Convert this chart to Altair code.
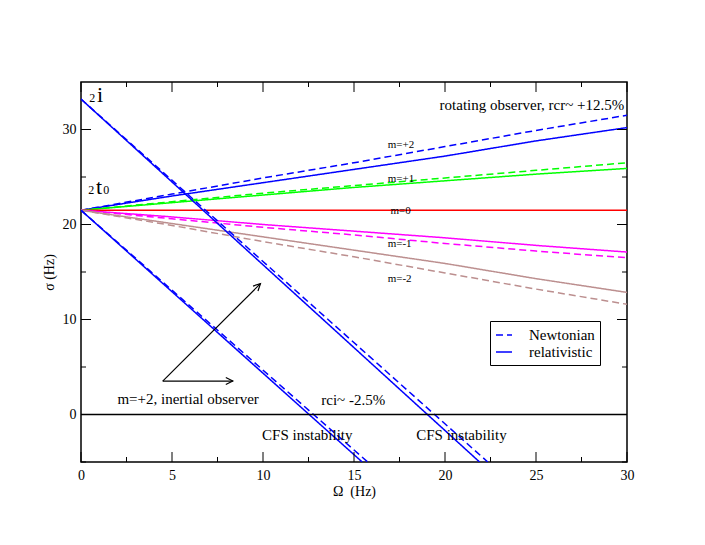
import altair as alt
import pandas as pd

FONT = "Liberation Serif"

# ---------------- data ----------------
omega_grid = [0, 5, 10, 15, 20, 25, 30]
mode_names = ["m=+2", "m=+1", "m=0", "m=-1", "m=-2"]
mode_colors = ["#0000ff", "#00ff00", "#ff0000", "#ff00ff", "#bc8f8f"]

sigma_newtonian = {
    "m=+2": [21.5, 23.2, 24.9, 26.5, 28.2, 29.9, 31.5],
    "m=+1": [21.5, 22.4, 23.3, 24.1, 24.9, 25.7, 26.5],
    "m=-1": [21.5, 20.6, 19.7, 18.9, 18.0, 17.2, 16.5],
    "m=-2": [21.5, 19.9, 18.2, 16.6, 14.9, 13.2, 11.6],
}
sigma_relativistic = {
    "m=+2": [21.5, 23.0, 24.4, 25.8, 27.2, 28.8, 30.2],
    "m=+1": [21.5, 22.3, 23.1, 23.9, 24.6, 25.3, 25.9],
    "m=0": [21.5, 21.5, 21.5, 21.5, 21.5, 21.5, 21.5],
    "m=-1": [21.5, 20.8, 20.0, 19.3, 18.6, 17.8, 17.1],
    "m=-2": [21.5, 20.1, 18.7, 17.3, 15.9, 14.3, 12.85],
}

# inertial-observer m=+2 branches (i and t0)
inertial_i_omega_newt = [0, 22.35]
inertial_i_sigma_newt = [33.2, -5.0]
inertial_i_omega_rel = [0, 21.9]
inertial_i_sigma_rel = [33.2, -5.0]
inertial_t_omega_newt = [0, 15.75]
inertial_t_sigma_newt = [21.5, -5.0]
inertial_t_omega_rel = [0, 15.45]
inertial_t_sigma_rel = [21.5, -5.0]

x_major = [0, 5, 10, 15, 20, 25, 30]
x_minor = [2.5, 7.5, 12.5, 17.5, 22.5, 27.5]
y_major = [0, 10, 20, 30]
y_minor = [-5, 5, 15, 25]

# annotations
mode_label_omega = [16.85, 16.85, 17.0, 16.85, 16.85]
mode_label_sigma = [28.4, 24.8, 21.4, 17.9, 14.3]

text15_labels = ["m=+2, inertial observer", "rci~ -2.5%", "CFS instability", "CFS instability"]
text15_omega = [2.0, 13.2, 9.95, 18.42]
text15_sigma = [1.6, 1.5, -2.15, -2.15]

title_label = ["rotating observer, rcr~ +12.5%"]
title_omega = [29.85]
title_sigma = [32.6]

big_glyphs = ["i", "t"]
big_omega = [0.88, 0.82]
big_sigma = [32.86, 23.2]
sub_glyphs = ["2", "2", "0"]
sub_omega = [0.45, 0.40, 1.22]
sub_sigma = [32.86, 23.2, 23.2]

arrow_start_omega = [4.49, 4.49]
arrow_start_sigma = [3.52, 3.52]
arrow_tip_omega = [9.86, 8.34]
arrow_tip_sigma = [13.78, 3.52]
arrow_tip_angle = [315, 0]

# ---------------- tables ----------------
rows = []
for name, color in zip(mode_names, mode_colors):
    if name in sigma_newtonian:
        for o, s in zip(omega_grid, sigma_newtonian[name]):
            rows.append(dict(omega=o, sigma=s, series=name + " N", model="Newtonian", color=color))
    for o, s in zip(omega_grid, sigma_relativistic[name]):
        rows.append(dict(omega=o, sigma=s, series=name + " R", model="relativistic", color=color))
for tag, om, sg, model in [
    ("iN", inertial_i_omega_newt, inertial_i_sigma_newt, "Newtonian"),
    ("iR", inertial_i_omega_rel, inertial_i_sigma_rel, "relativistic"),
    ("tN", inertial_t_omega_newt, inertial_t_sigma_newt, "Newtonian"),
    ("tR", inertial_t_omega_rel, inertial_t_sigma_rel, "relativistic"),
]:
    for o, s in zip(om, sg):
        rows.append(dict(omega=o, sigma=s, series=tag, model=model, color="#0000ff"))
df = pd.DataFrame(rows)

xs = alt.Scale(domain=[0, 30], nice=False, zero=False)
ys = alt.Scale(domain=[-5, 35], nice=False, zero=False)

x_axis = alt.Axis(
    values=x_major, ticks=False, domain=False, grid=False, labelFlush=False,
    labelFont=FONT, labelFontSize=14, labelColor="black", labelPadding=6,
    title="Ω\u00a0\u00a0(Hz)", titleFont=FONT, titleFontSize=14,
    titleFontWeight="normal", titleColor="black", titlePadding=2)
y_axis = alt.Axis(
    values=y_major, ticks=False, domain=False, grid=False, labelFlush=False,
    labelFont=FONT, labelFontSize=14, labelColor="black", labelPadding=5,
    title="σ (Hz)", titleFont=FONT, titleFontSize=14,
    titleFontWeight="normal", titleColor="black", titlePadding=6)

W, H = 546, 380


def X(field):
    return alt.X(field, scale=xs, axis=x_axis)


def Y(field):
    return alt.Y(field, scale=ys, axis=y_axis)


lines = alt.Chart(df).mark_line(strokeWidth=1.5, clip=True).encode(
    x=X("omega:Q"),
    y=Y("sigma:Q"),
    color=alt.Color("color:N", scale=None),
    strokeDash=alt.StrokeDash("model:N", scale=alt.Scale(
        domain=["Newtonian", "relativistic"], range=[[7, 4], [1, 0]]),
        legend=alt.Legend(title=None, orient="none", legendX=409, legendY=239,
                          direction="vertical", strokeColor="black", fillColor="white",
                          padding=5, symbolType="stroke", symbolSize=256,
                          symbolStrokeColor="#0000ff", symbolStrokeWidth=1.5,
                          labelFont=FONT, labelFontSize=15, labelColor="black",
                          labelOffset=16, rowPadding=0, cornerRadius=0)),
    detail="series:N",
)

zero_line = alt.Chart(pd.DataFrame({"sigma": [0]})).mark_rule(color="black", strokeWidth=1.5).encode(
    y=Y("sigma:Q"))

# inside ticks on all four sides
xt_major = pd.DataFrame({"omega": x_major})
xt_minor = pd.DataFrame({"omega": x_minor})
yt_major = pd.DataFrame({"sigma": y_major})
yt_minor = pd.DataFrame({"sigma": y_minor})


def xticks(d, length):
    bottom = alt.Chart(d).mark_rule(color="black", strokeWidth=1).encode(
        x=X("omega:Q"), y=alt.value(H), y2=alt.value(H - length))
    top = alt.Chart(d).mark_rule(color="black", strokeWidth=1).encode(
        x=X("omega:Q"), y=alt.value(0), y2=alt.value(length))
    return [bottom, top]


def yticks(d, length):
    left = alt.Chart(d).mark_rule(color="black", strokeWidth=1).encode(
        y=Y("sigma:Q"), x=alt.value(0), x2=alt.value(length))
    right = alt.Chart(d).mark_rule(color="black", strokeWidth=1).encode(
        y=Y("sigma:Q"), x=alt.value(W), x2=alt.value(W - length))
    return [left, right]


tick_layers = xticks(xt_major, 10) + xticks(xt_minor, 5) + yticks(yt_major, 10) + yticks(yt_minor, 5)


def text_layer(omegas, sigmas, labels, size, align, baseline):
    d = pd.DataFrame({"omega": omegas, "sigma": sigmas, "label": labels})
    return alt.Chart(d).mark_text(
        font=FONT, fontSize=size, align=align, baseline=baseline, color="black").encode(
        x=X("omega:Q"), y=Y("sigma:Q"), text="label:N")


mode_text = text_layer(mode_label_omega, mode_label_sigma, mode_names, 11, "left", "middle")
text15 = text_layer(text15_omega, text15_sigma, text15_labels, 15, "left", "middle")
title_text = text_layer(title_omega, title_sigma, title_label, 15, "right", "middle")
big_text = text_layer(big_omega, big_sigma, big_glyphs, 22, "left", "alphabetic")
sub_text = text_layer(sub_omega, sub_sigma, sub_glyphs, 12, "left", "alphabetic")

arrows_df = pd.DataFrame({"o0": arrow_start_omega, "s0": arrow_start_sigma,
                          "o1": arrow_tip_omega, "s1": arrow_tip_sigma, "ang": arrow_tip_angle})
arrow_shafts = alt.Chart(arrows_df).mark_rule(color="black", strokeWidth=1.2).encode(
    x=X("o0:Q"), y=Y("s0:Q"), x2="o1:Q", y2="s1:Q")
arrow_heads = alt.Chart(arrows_df).mark_point(
    shape="M-2,-1L0,0L-2,1", filled=False, color="black", strokeWidth=1.2, size=49, opacity=1).encode(
    x=X("o1:Q"), y=Y("s1:Q"), angle=alt.Angle("ang:Q", scale=None))

chart = alt.layer(
    lines, zero_line, *tick_layers, mode_text, text15, title_text, big_text, sub_text,
    arrow_shafts, arrow_heads,
).properties(
    width=W, height=H,
    padding={"left": 73, "top": 74, "right": 70, "bottom": 75},
    autosize=alt.AutoSizeParams(type="none"),
    background="white",
).configure_view(stroke="black", strokeWidth=1.5)

chart.save("out.html", embed_options={"renderer": "svg", "actions": False})
